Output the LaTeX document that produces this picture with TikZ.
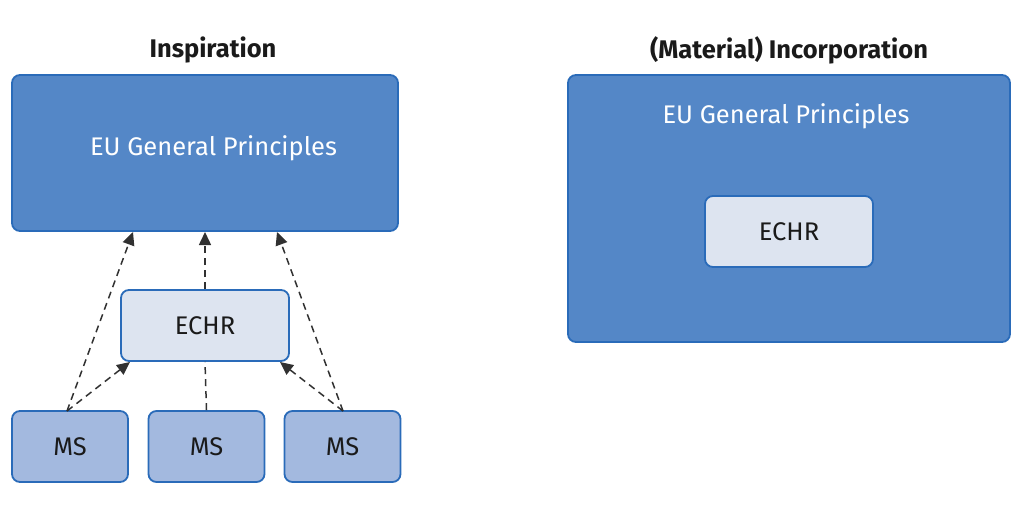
\documentclass[tikz,border=0pt]{standalone}
\usepackage{fontspec}
\setmainfont{Fira Sans}
\usetikzlibrary{arrows.meta}
\definecolor{bigfill}{HTML}{5487C7}
\definecolor{bigdraw}{HTML}{2A6BB9}
\definecolor{echrfill}{HTML}{DDE4F0}
\definecolor{msfill}{HTML}{A3B9DF}
\definecolor{txt}{HTML}{1A1A1A}
\tikzset{
  box/.style={draw=bigdraw, line width=1.8pt, rounded corners=8pt, inner sep=0pt, anchor=center},
  bigbox/.style={box, fill=bigfill},
  echrbox/.style={box, fill=echrfill, minimum width=168pt, minimum height=71pt, text=txt, font=\fontsize{25.5}{30}\selectfont},
  msbox/.style={box, fill=msfill, minimum width=116pt, minimum height=71pt, text=txt, font=\fontsize{25.5}{30}\selectfont},
  title/.style={text=txt, font=\bfseries\fontsize{25.5}{30}\selectfont},
  wlabel/.style={text=white, font=\fontsize{25.5}{30}\selectfont},
  conn/.style={line width=1.5pt, draw=txt!90, dash pattern=on 7pt off 5pt},
  arr/.style={conn, -{Triangle[length=13pt,width=12pt]}}
}
\begin{document}
\begin{tikzpicture}[x=1pt,y=-1pt]
\useasboundingbox (0,0) rectangle (1024,505);
% left
\node[title] (t1) at (213,50) {Inspiration};
\node[bigbox, minimum width=386pt, minimum height=156pt] (eu1) at (205,153) {};
\node[wlabel] (l1) at (213.5,148) {EU General Principles};
\node[echrbox] (echr1) at (205,325.5) {ECHR};
\node[msbox] (ms1) at (70,446.5) {MS};
\node[msbox] (ms2) at (206.5,446.5) {MS};
\node[msbox] (ms3) at (342.5,446.5) {MS};
\coordinate (a1) at (133,232);
\coordinate (a2) at (205,232);
\coordinate (a3) at (277,232);
\coordinate (m1) at (67,411);
\coordinate (m3) at (343,411);
\coordinate (e1) at (130,362);
\coordinate (e3) at (280,362);
\draw[arr] (m1) -- (a1);
\draw[arr] (m1) -- (e1);
\draw[arr] (m3) -- (a3);
\draw[arr] (m3) -- (e3);
\draw[arr] (echr1.north) -- (a2);
\draw[conn] (ms2.north) -- (echr1.south);
% right
\node[title] (t2) at (789,50) {(Material) Incorporation};
\node[bigbox, minimum width=442pt, minimum height=267pt] (eu2) at (789,208.5) {};
\node[wlabel] (l2) at (786,116) {EU General Principles};
\node[echrbox] (echr2) at (789,231.5) {ECHR};
\end{tikzpicture}
\end{document}
